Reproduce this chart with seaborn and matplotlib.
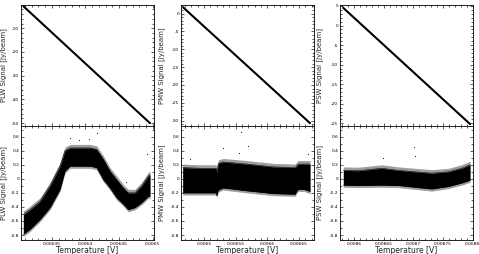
import numpy as np
import pandas as pd
import matplotlib
matplotlib.use("Agg")
import matplotlib.pyplot as plt
from matplotlib.ticker import FuncFormatter, AutoMinorLocator, MultipleLocator
import seaborn as sns

# ---------------- data ----------------
bands = ["PLW", "PMW", "PSW"]

# top panels: raw signal vs temperature (straight dense line)
plw_top_x = [0.0063075, 0.0064960]
plw_top_y = [-0.7, -50.0]
pmw_top_x = [0.0064671, 0.0066675]
pmw_top_y = [1.7, -30.7]
psw_top_x = [0.0085820, 0.0087955]
psw_top_y = [4.5, -25.2]

# bottom panels: residual cloud, dense core upper / lower envelopes
plw_bot_x = [0.0063075, 0.0063174, 0.0063323, 0.0063472, 0.0063621, 0.0063695,
             0.0063769, 0.0063918, 0.0064067, 0.0064166, 0.0064265, 0.0064365,
             0.0064464, 0.0064563, 0.0064637, 0.0064737, 0.0064836, 0.0064935,
             0.0064960]
plw_bot_hi = [-0.51, -0.44, -0.32, -0.10, 0.18, 0.40, 0.44, 0.44, 0.44, 0.42,
              0.28, 0.11, -0.01, -0.13, -0.20, -0.20, -0.10, 0.04, 0.06]
plw_bot_lo = [-0.79, -0.72, -0.58, -0.41, -0.15, 0.11, 0.18, 0.18, 0.18, 0.16,
              -0.01, -0.13, -0.27, -0.36, -0.44, -0.41, -0.34, -0.25, -0.25]

pmw_bot_x = [0.0064662, 0.0064935, 0.0065190, 0.0065199, 0.0065225, 0.0065300,
             0.0065674, 0.0066094, 0.0066438, 0.0066470, 0.0066490, 0.0066580,
             0.0066675]
pmw_bot_hi = [0.16, 0.15, 0.15, 0.09, 0.22, 0.24, 0.21, 0.17, 0.16, 0.19, 0.21, 0.21, 0.21]
pmw_bot_lo = [-0.20, -0.20, -0.20, -0.24, -0.16, -0.13, -0.17, -0.21, -0.22, -0.17,
              -0.15, -0.15, -0.18]

psw_bot_x = [0.0085820, 0.0086072, 0.0086466, 0.0086747, 0.0087028, 0.0087309,
             0.0087589, 0.0087814, 0.0087955]
psw_bot_hi = [0.12, 0.115, 0.15, 0.12, 0.10, 0.08, 0.10, 0.15, 0.20]
psw_bot_lo = [-0.09, -0.095, -0.09, -0.095, -0.12, -0.145, -0.11, -0.06, -0.02]

# sparse outlier points
plw_out_x = [0.0064176, 0.0063769, 0.0064911, 0.0063900, 0.0064050, 0.0064600]
plw_out_y = [0.657, 0.585, 0.348, 0.55, 0.57, -0.05]
pmw_out_x = [0.0065580, 0.0065304, 0.0065699, 0.0064777, 0.0066648, 0.0065550]
pmw_out_y = [0.667, 0.443, 0.467, 0.277, 0.348, 0.372]
psw_out_x = [0.0087011, 0.0086494, 0.0087020]
psw_out_y = [0.457, 0.292, 0.330]

# axis ranges
xlims = [(0.006304, 0.006502), (0.0064635, 0.0066738), (0.0085764, 0.0088005)]
top_ylims = [(-51.2, -0.2), (-31.5, 2.4), (-25.7, 5.25)]
bot_ylim = (-0.871, 0.752)
top_ysteps = [10, 5, 5]
ylabel_x = [-0.105, -0.12, -0.128]

top_x = [plw_top_x, pmw_top_x, psw_top_x]
top_y = [plw_top_y, pmw_top_y, psw_top_y]
bot_x = [plw_bot_x, pmw_bot_x, psw_bot_x]
bot_hi = [plw_bot_hi, pmw_bot_hi, psw_bot_hi]
bot_lo = [plw_bot_lo, pmw_bot_lo, psw_bot_lo]
out_x = [plw_out_x, pmw_out_x, psw_out_x]
out_y = [plw_out_y, pmw_out_y, psw_out_y]

# ---------------- figure ----------------
sns.set_style("ticks")
plt.rcParams['font.family'] = ['DejaVu Sans']
W, H = 479, 254
fig = plt.figure(figsize=(W / 100, H / 100), dpi=100)

lefts = [21, 181, 340]
axw = 133
top_px = (5, 126)
bot_px = (126, 240)

fmt = FuncFormatter(lambda v, p: "%g" % round(v, 8))


def style(ax):
    for s in ax.spines.values():
        s.set_linewidth(0.6)
        s.set_color("black")
    ax.tick_params(which="both", direction="in", top=True, right=True,
                   labelsize=3.2, pad=1.2, width=0.45, colors="black")
    ax.tick_params(which="major", length=2.2)
    ax.tick_params(which="minor", length=1.1)
    ax.xaxis.set_minor_locator(AutoMinorLocator(5))


for i, b in enumerate(bands):
    x0 = lefts[i] / W
    w = axw / W
    axt = fig.add_axes([x0, 1 - top_px[1] / H, w, (top_px[1] - top_px[0]) / H])
    axb = fig.add_axes([x0, 1 - bot_px[1] / H, w, (bot_px[1] - bot_px[0]) / H])

    # top: signal vs temperature
    dft = pd.DataFrame({"T": top_x[i], "S": top_y[i]})
    sns.lineplot(data=dft, x="T", y="S", ax=axt, color="black", lw=1.5)
    axt.set_xlim(*xlims[i])
    axt.set_ylim(*top_ylims[i])
    axt.yaxis.set_major_locator(MultipleLocator(top_ysteps[i]))
    axt.yaxis.set_minor_locator(AutoMinorLocator(5))
    axt.xaxis.set_major_locator(MultipleLocator(0.00005))
    axt.yaxis.set_major_formatter(fmt)
    axt.set_xticklabels([])
    axt.set_xlabel("")
    axt.set_ylabel(f"{b} Signal [Jy/beam]", fontsize=5)
    axt.yaxis.set_label_coords(ylabel_x[i], 0.5)
    style(axt)

    # bottom: residuals
    dfb = pd.DataFrame({"T": bot_x[i], "hi": bot_hi[i], "lo": bot_lo[i]})
    fr = 0.05
    axb.fill_between(dfb["T"], dfb["lo"] - fr * 0.6, dfb["hi"] + fr,
                     color="0.62", lw=0)
    axb.fill_between(dfb["T"], dfb["lo"], dfb["hi"], color="black", lw=0)
    sns.lineplot(data=dfb, x="T", y="hi", ax=axb, color="black", lw=0.4)
    sns.lineplot(data=dfb, x="T", y="lo", ax=axb, color="black", lw=0.4)
    dfo = pd.DataFrame({"T": out_x[i], "S": out_y[i]})
    sns.scatterplot(data=dfo, x="T", y="S", ax=axb, color="black", s=0.6,
                    linewidth=0)
    axb.set_xlim(*xlims[i])
    axb.set_ylim(*bot_ylim)
    axb.xaxis.set_major_locator(MultipleLocator(0.00005))
    axb.yaxis.set_major_locator(MultipleLocator(0.2))
    axb.yaxis.set_minor_locator(AutoMinorLocator(2))
    axb.xaxis.set_major_formatter(fmt)
    axb.yaxis.set_major_formatter(fmt)
    axb.set_xlabel("Temperature [V]", fontsize=5.5)
    axb.xaxis.set_label_coords(0.5, -0.055)
    axb.set_ylabel(f"{b} Signal [Jy/beam]", fontsize=5)
    axb.yaxis.set_label_coords(ylabel_x[i], 0.5)
    style(axb)

fig.savefig("out.png", dpi=100, facecolor="white")
